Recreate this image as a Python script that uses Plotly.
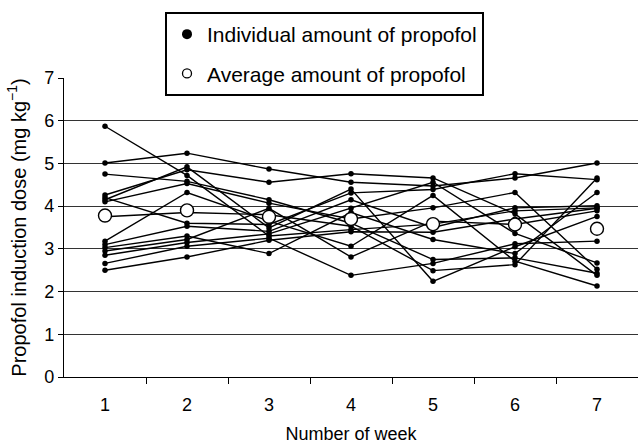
import plotly.graph_objects as go

weeks = [1, 2, 3, 4, 5, 6, 7]

# individual propofol induction doses (mg/kg), one list per subject, weeks 1..7
s01 = [5.87, 4.72, 3.30, 3.45, 3.58, 3.89, 3.96]
s02 = [5.01, 5.24, 4.87, 4.56, 4.47, 4.66, 5.01]
s03 = [4.75, 4.58, 4.15, 3.60, 2.75, 2.79, 2.43]
s04 = [4.26, 4.85, 4.56, 4.76, 4.66, 3.82, 2.38]
s05 = [4.20, 3.60, 3.57, 4.31, 4.39, 4.76, 4.62]
s06 = [4.15, 4.92, 3.49, 4.40, 2.24, 3.05, 3.76]
s07 = [4.10, 4.53, 4.07, 3.70, 3.96, 4.32, 2.52]
s08 = [3.75, 3.85, 3.80, 3.53, 2.49, 2.63, 4.66]
s09 = [3.18, 4.32, 3.65, 3.06, 4.25, 2.71, 2.13]
s10 = [3.10, 3.53, 3.41, 4.15, 3.50, 3.96, 4.01]
s11 = [3.03, 3.30, 2.89, 3.85, 3.22, 2.89, 4.32]
s12 = [2.95, 3.22, 3.95, 2.81, 3.65, 3.57, 3.89]
s13 = [2.85, 3.15, 3.35, 3.95, 4.56, 3.36, 2.67]
s14 = [2.66, 3.06, 3.25, 2.38, 2.66, 3.12, 3.18]
s15 = [2.50, 2.81, 3.20, 3.40, 3.39, 3.70, 3.95]
subjects = [s01, s02, s03, s04, s05, s06, s07, s08, s09, s10, s11, s12, s13, s14, s15]

average = [3.78, 3.90, 3.75, 3.70, 3.58, 3.57, 3.47]

week_labels = ["1", "2", "3", "4", "5", "6", "7"]
y_ticks = [0, 1, 2, 3, 4, 5, 6, 7]

FONT = "Liberation Sans, Arial, sans-serif"

fig = go.Figure()
for s in subjects:
    fig.add_trace(go.Scatter(
        x=weeks, y=s, mode="lines+markers",
        line=dict(color="black", width=1.4),
        marker=dict(color="black", size=5.5),
        showlegend=False, hoverinfo="skip"))

fig.add_trace(go.Scatter(
    x=weeks, y=average, mode="markers",
    marker=dict(color="white", size=13, line=dict(color="black", width=1.4)),
    showlegend=False))

# legend entries
fig.add_trace(go.Scatter(
    x=[None], y=[None], mode="markers", name="Individual amount of propofol",
    marker=dict(color="black", size=10), legendgroup="a"))
fig.add_trace(go.Scatter(
    x=[None], y=[None], mode="markers", name="Average amount of propofol",
    marker=dict(color="white", size=9, line=dict(color="black", width=1.3)),
    legendgroup="b"))

fig.update_layout(
    width=638, height=444,
    margin=dict(l=64, r=0, t=78, b=67),
    paper_bgcolor="white", plot_bgcolor="white",
    font=dict(family=FONT, color="black", size=18),
    legend=dict(
        x=(165 - 64) / 574, y=(377 - 12) / 299, xanchor="left", yanchor="top",
        bordercolor="black", borderwidth=2,
        font=dict(size=21), tracegroupgap=9,
        traceorder="grouped", itemwidth=30),
)

fig.update_xaxes(
    range=[0.5, 7.5], tickvals=weeks, ticktext=week_labels, ticks="",
    ticklabelstandoff=11, showgrid=False, zeroline=False,
    showline=True, linecolor="black", linewidth=1.4,
    tickfont=dict(size=18),
    minor=dict(tickvals=[1.5, 2.5, 3.5, 4.5, 5.5, 6.5, 7.5], ticks="outside",
               ticklen=6, tickcolor="black", tickwidth=1.4, showgrid=False),
    title=dict(text="Number of week", font=dict(size=18), standoff=14),
)
fig.update_yaxes(
    range=[0, 7], tickvals=y_ticks, ticks="outside", ticklen=5,
    tickcolor="black", tickwidth=1.4, showgrid=False, zeroline=False,
    showline=True, linecolor="black", linewidth=1.4,
    tickfont=dict(size=18),
    minor=dict(tickvals=[1, 2, 3, 4, 5, 6], showgrid=True, gridcolor="#333333",
               gridwidth=1.3, ticks=""),
    title=dict(text="Propofol induction dose (mg kg<sup>−1</sup>)", font=dict(size=20), standoff=12),
)

fig.write_html("out.html", config={"displayModeBar": False},
               post_script="document.body.style.margin='0';document.body.style.overflow='hidden';")
